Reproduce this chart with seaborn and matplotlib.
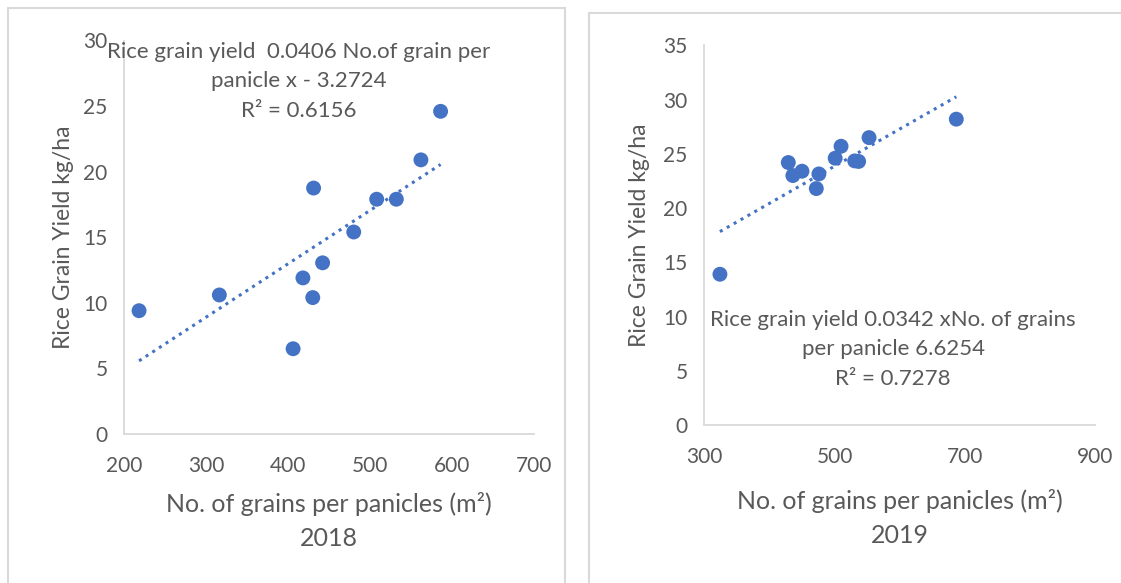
import matplotlib
matplotlib.use("Agg")
import matplotlib.pyplot as plt
import seaborn as sns
import numpy as np
import pandas as pd
from matplotlib.patches import Rectangle

sns.set_theme(style="white")
plt.rcParams['font.family'] = ['Lato', 'DejaVu Sans']

# 2018 data
grains_2018 = [218, 316, 406, 418, 430, 431, 442, 480, 508, 532, 562, 586]
yield_2018 = [9.4, 10.6, 6.5, 11.9, 10.4, 18.75, 13.05, 15.4, 17.9, 17.9, 20.9, 24.6]
# 2019 data
grains_2019 = [324, 429, 436, 450, 472, 476, 501, 510, 531, 537, 553, 687]
yield_2019 = [13.9, 24.2, 23.0, 23.4, 21.8, 23.15, 24.6, 25.7, 24.35, 24.3, 26.5, 28.2]

xticks_2018 = [200, 300, 400, 500, 600, 700]
yticks_2018 = [0, 5, 10, 15, 20, 25, 30]
xticks_2019 = [300, 500, 700, 900]
yticks_2019 = [0, 5, 10, 15, 20, 25, 30, 35]

eq_2018 = "Rice grain yield  0.0406 No.of grain per\npanicle x - 3.2724\nR² = 0.6156"
eq_2019 = "Rice grain yield 0.0342 xNo. of grains\nper panicle 6.6254\nR² = 0.7278"
xlabel = "No. of grains per panicles (m²)"
ylabel = "Rice Grain Yield kg/ha"

W, H = 1121, 583
fig = plt.figure(figsize=(W/100, H/100), dpi=100)
fig.patch.set_facecolor("white")

# panel borders
border = "#d9d9d9"
fig.add_artist(Rectangle((8/W, -0.01), (565-8)/W, 1 - 8/H + 0.01, transform=fig.transFigure,
                         fill=False, edgecolor=border, lw=1.5))
fig.add_artist(Rectangle((589/W, -0.01), (W + 5 - 589)/W, 1 - 13/H + 0.01, transform=fig.transFigure,
                         fill=False, edgecolor=border, lw=1.5))

blue = "#4472C4"
gray_txt = "#595959"

def make(ax, x, y, xt, yt, year, eq, eq_xy, xl_y, yl_x):
    df = pd.DataFrame({"x": x, "y": y})
    sns.regplot(data=df, x="x", y="y", ax=ax, ci=None, truncate=True,
                scatter_kws=dict(s=115, color=blue, edgecolor="none", alpha=1, zorder=4),
                line_kws=dict(color=blue, lw=2.2, linestyle=(0, (1, 1.6)), zorder=3))
    ax.set_xlim(xt[0], xt[-1])
    ax.set_ylim(yt[0], yt[-1])
    ax.set_xticks(xt)
    ax.set_yticks(yt)
    ax.tick_params(axis="x", length=0, labelsize=15, labelcolor=gray_txt, pad=16)
    ax.tick_params(axis="y", length=0, labelsize=15, labelcolor=gray_txt, pad=12)
    for s in ["top", "right"]:
        ax.spines[s].set_visible(False)
    for s in ["left", "bottom"]:
        ax.spines[s].set_color(border)
        ax.spines[s].set_linewidth(1.3)
    ax.set_xlabel(xlabel + "\n" + year, fontsize=18, color=gray_txt, linespacing=1.58)
    ax.set_ylabel(ylabel, fontsize=16.5, color=gray_txt)
    ax.xaxis.set_label_coords(0.5, xl_y)
    ax.yaxis.set_label_coords(yl_x, 0.5)
    ax.text(eq_xy[0], eq_xy[1], eq, transform=ax.transAxes, ha="center", va="top",
            fontsize=16, color=gray_txt, linespacing=1.58, zorder=2.8)

# left axes: x 124.3..534, y 434..40.5
L1, R1, B1, T1 = 124.3, 534, 434, 40.5
ax1 = fig.add_axes([L1/W, 1 - B1/H, (R1-L1)/W, (B1-T1)/H])
make(ax1, grains_2018, yield_2018, xticks_2018, yticks_2018, "2018", eq_2018,
     ((299-L1)/(R1-L1), (B1-42)/(B1-T1)),
     (B1-492)/(B1-T1), (74-L1)/(R1-L1))

# right axes: x 704.3..1095, y 425..45.4
L2, R2, B2, T2 = 704.3, 1095, 425, 45.4
ax2 = fig.add_axes([L2/W, 1 - B2/H, (R2-L2)/W, (B2-T2)/H])
make(ax2, grains_2019, yield_2019, xticks_2019, yticks_2019, "2019", eq_2019,
     ((893-L2)/(R2-L2), (B2-310)/(B2-T2)),
     (B2-489)/(B2-T2), (650-L2)/(R2-L2))

fig.savefig("out.png", dpi=100, facecolor="white")
